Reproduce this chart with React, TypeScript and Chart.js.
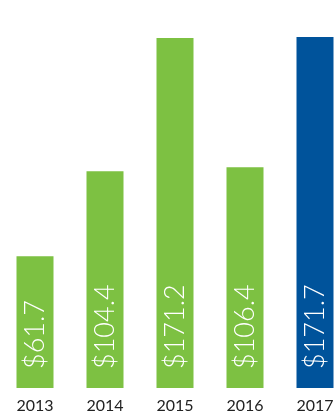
import React, { useEffect, useRef } from "react";
import { Chart, registerables } from "chart.js";

Chart.register(...registerables);

const years = ["2013", "2014", "2015", "2016", "2017"];
const values = [61.7, 104.4, 171.2, 106.4, 171.7];
const barColors = ["#7DC142", "#7DC142", "#7DC142", "#7DC142", "#00539B"];

const valueLabelPlugin = {
  id: "valueLabels",
  afterDatasetsDraw(chart: any) {
    const ctx = chart.ctx;
    const meta = chart.getDatasetMeta(0);
    ctx.save();
    ctx.fillStyle = "#ffffff";
    ctx.font = "300 27px Lato, 'Open Sans', sans-serif";
    ctx.textAlign = "left";
    ctx.textBaseline = "middle";
    meta.data.forEach((bar: any, i: number) => {
      const p = bar.getProps(["x", "base"], true);
      ctx.save();
      ctx.translate(p.x, p.base - 19);
      ctx.rotate(-Math.PI / 2);
      ctx.fillText("$" + values[i].toFixed(1), 0, 0);
      ctx.restore();
    });
    ctx.restore();
  },
};

export default function App() {
  const ref = useRef<HTMLCanvasElement | null>(null);
  useEffect(() => {
    if (!ref.current) return;
    const chart = new Chart(ref.current, {
      type: "bar",
      data: {
        labels: years,
        datasets: [
          {
            data: values,
            base: -4.3,
            backgroundColor: barColors,
            borderWidth: 0,
            categoryPercentage: 1,
            barPercentage: 0.5286,
          },
        ],
      },
      options: {
        animation: false,
        responsive: true,
        maintainAspectRatio: false,
        layout: { padding: { left: 0, right: 0, top: 0, bottom: 0 } },
        plugins: { legend: { display: false }, tooltip: { enabled: false } },
        scales: {
          x: {
            grid: { display: false },
            border: { display: false },
            ticks: {
              color: "#222222",
              padding: 2,
              font: { family: "Lato, 'Open Sans', sans-serif", size: 16, lineHeight: 1 },
            },
          },
          y: { display: false, min: -4.3, max: 190.2 },
        },
      },
      plugins: [valueLabelPlugin],
    } as any);
    return () => chart.destroy();
  }, []);
  return (
    <div style={{ position: "fixed", left: 0, top: 0, width: 335, height: 414, overflow: "hidden", background: "#fff" }}>
      <div style={{ position: "relative", width: 350, height: 416 }}>
        <canvas ref={ref} />
      </div>
    </div>
  );
}
